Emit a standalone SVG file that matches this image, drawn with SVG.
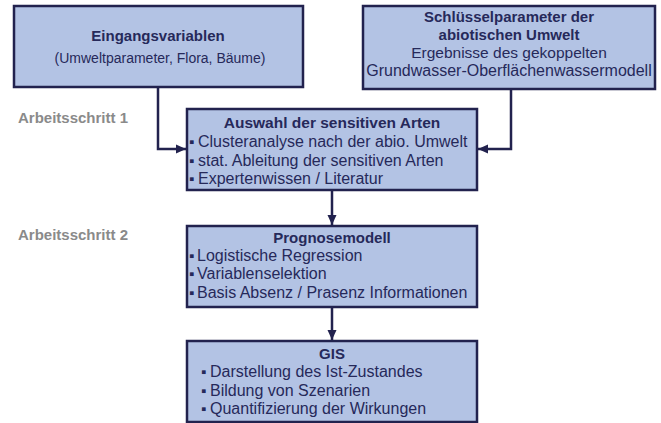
<svg xmlns="http://www.w3.org/2000/svg" width="661" height="423" viewBox="0 0 661 423">
<defs>
<style>
.box{fill:#b3c3e4;stroke:#22224e;stroke-width:2.5}
.t{font-family:"Liberation Sans",Arial,sans-serif;fill:#26295a;font-size:16px}
.b{font-weight:bold;font-size:15px}
.c{text-anchor:middle}
.lbl{font-family:"Liberation Sans",Arial,sans-serif;font-weight:bold;font-size:15px;fill:#8a8a8a}
.bu{font-size:15px}
.conn{fill:none;stroke:#22224e;stroke-width:2.5}
</style>
<marker id="arr" markerUnits="userSpaceOnUse" markerWidth="10" markerHeight="10" viewBox="0 0 10 10" refX="10" refY="5" orient="auto">
<path d="M0,0.5 L10,5 L0,9.5 Z" fill="#22224e"/>
</marker>
</defs>
<rect width="661" height="423" fill="#ffffff"/>
<text class="lbl" x="18" y="123">Arbeitsschritt 1</text>
<text class="lbl" x="18" y="240">Arbeitsschritt 2</text>
<g id="connectors">
<path class="conn" d="M158,87 V149 H186" marker-end="url(#arr)"/>
<path class="conn" d="M511,89 V149 H478" marker-end="url(#arr)"/>
<path class="conn" d="M332,190 V225" marker-end="url(#arr)"/>
<path class="conn" d="M332,307 V340" marker-end="url(#arr)"/>
</g>
<g id="eingangsvariablen">
<rect class="box" x="14" y="6" width="289" height="81"/>
<text class="t b c" x="158" y="41">Eingangsvariablen</text>
<text class="t c" x="160" y="63" style="font-size:14px">(Umweltparameter, Flora, Bäume)</text>
</g>
<g id="schluesselparameter">
<rect class="box" x="363" y="6" width="292" height="83"/>
<text class="t b c" x="509" y="22">Schlüsselparameter der</text>
<text class="t b c" x="509" y="40">abiotischen Umwelt</text>
<text class="t c" x="509" y="58" style="font-size:15.5px">Ergebnisse des gekoppelten</text>
<text class="t c" x="509" y="76">Grundwasser-Oberflächenwassermodell</text>
</g>
<g id="auswahl">
<rect class="box" x="187" y="109" width="290" height="81"/>
<text class="t b c" x="332" y="128" style="font-size:15.5px">Auswahl der sensitiven Arten</text>
<text class="t" y="147"><tspan class="bu" x="189">▪</tspan><tspan x="198">Clusteranalyse nach der abio. Umwelt</tspan></text>
<text class="t" y="166"><tspan class="bu" x="189">▪</tspan><tspan x="198">stat. Ableitung der sensitiven Arten</tspan></text>
<text class="t" y="184"><tspan class="bu" x="189">▪</tspan><tspan x="198">Expertenwissen / Literatur</tspan></text>
</g>
<g id="prognosemodell">
<rect class="box" x="187" y="226" width="290" height="81"/>
<text class="t b c" x="332" y="243">Prognosemodell</text>
<text class="t" y="261"><tspan class="bu" x="189">▪</tspan><tspan x="197">Logistische Regression</tspan></text>
<text class="t" y="279"><tspan class="bu" x="189">▪</tspan><tspan x="197">Variablenselektion</tspan></text>
<text class="t" y="298"><tspan class="bu" x="189">▪</tspan><tspan x="197">Basis Absenz / Prasenz Informationen</tspan></text>
</g>
<g id="gis">
<rect class="box" x="187" y="341" width="290" height="81"/>
<text class="t b c" x="332" y="359">GIS</text>
<text class="t" y="377"><tspan class="bu" x="201">▪</tspan><tspan x="210">Darstellung des Ist-Zustandes</tspan></text>
<text class="t" y="396"><tspan class="bu" x="201">▪</tspan><tspan x="210">Bildung von Szenarien</tspan></text>
<text class="t" y="414"><tspan class="bu" x="201">▪</tspan><tspan x="210">Quantifizierung der Wirkungen</tspan></text>
</g>
</svg>
